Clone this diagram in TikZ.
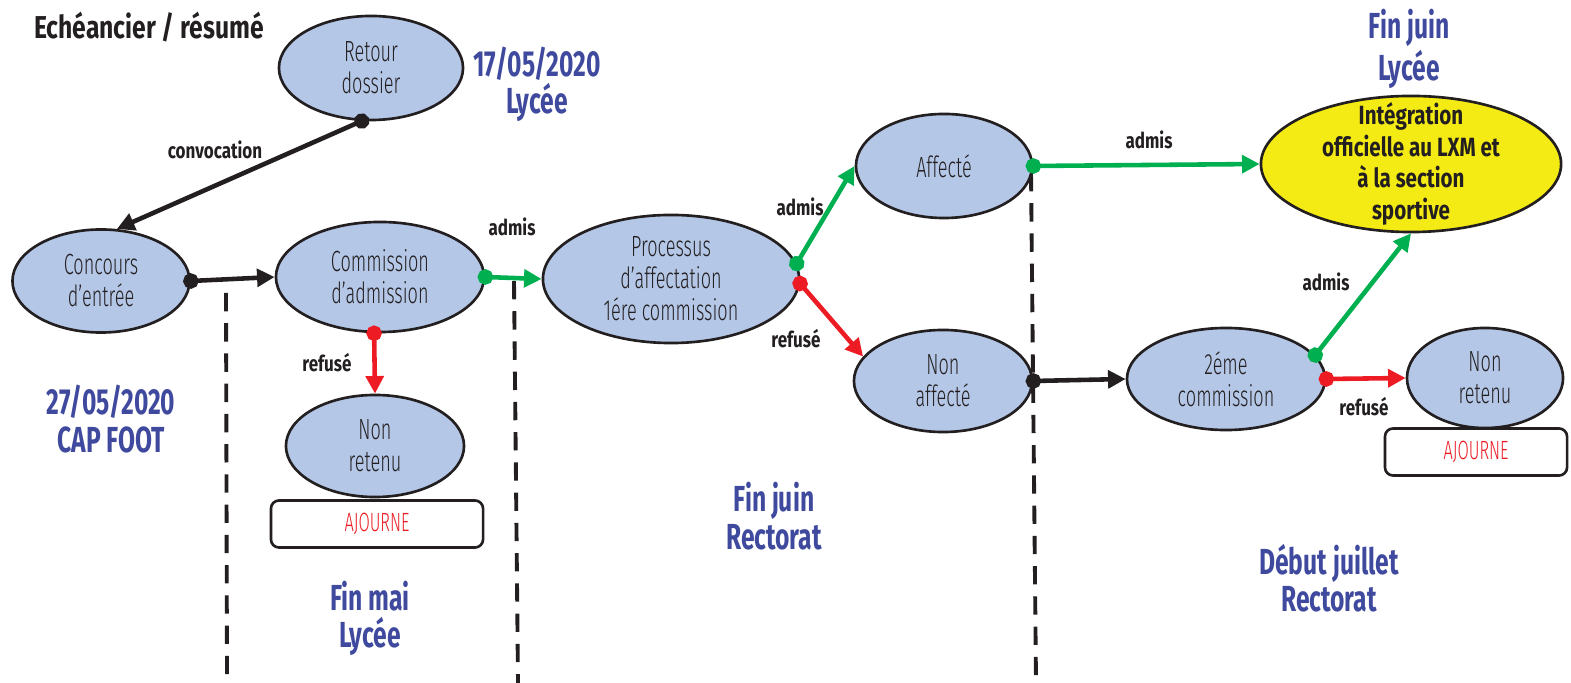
\documentclass[tikz,border=0pt]{standalone}
\usepackage{fontspec}
\setmainfont{Fira Sans Light}[FakeStretch=0.62]
\newfontfamily\fbold{Fira Sans}[FakeStretch=0.78]
\newfontfamily\fblue{Fira Sans}[FakeStretch=0.68]
\usetikzlibrary{shapes.geometric,arrows.meta}
\definecolor{nodefill}{HTML}{B4C7E7}
\definecolor{txt}{HTML}{231F20}
\definecolor{bluelab}{HTML}{3F4A9E}
\definecolor{grn}{HTML}{00B050}
\definecolor{rd}{HTML}{ED1C24}
\definecolor{yel}{HTML}{F5EB14}
\tikzset{
  ell/.style={ellipse, draw=txt, line width=0.75pt, fill=nodefill, inner sep=0pt},
  ntext/.style={font=\fontsize{8.3}{9.1}\selectfont, text=txt, align=center, inner sep=0pt},
  itext/.style={font=\fbold\bfseries\fontsize{7.5}{9}\selectfont, text=txt, align=center, inner sep=0pt},
  lab/.style={font=\fbold\bfseries\fontsize{6.2}{7}\selectfont, text=txt, inner sep=0pt},
  bluelabel/.style={font=\fblue\bfseries\fontsize{10.3}{10.6}\selectfont, text=bluelab, align=center, inner sep=0pt},
  titlestyle/.style={font=\fbold\bfseries\fontsize{9}{10}\selectfont, text=txt, inner sep=0pt},
  ajbox/.style={draw=txt, line width=0.75pt, rounded corners=2.3pt, fill=white, text=rd, font=\fontsize{7.5}{8}\selectfont, inner sep=0pt},
  conn/.style={line width=1.3pt, shorten <=-2.2pt, {Circle[length=4.4pt]}-{Triangle[length=5pt,width=5pt]}},
  divider/.style={draw=txt, line width=1.1pt, dash pattern=on 5.2pt off 3.4pt}
}
\begin{document}
\begin{tikzpicture}[x=0.01cm, y=-0.01cm]
\useasboundingbox (0,0) rectangle (1571,683);

% dividers
\coordinate (d1t) at (226,293); \coordinate (d1b) at (227,683);
\coordinate (d2t) at (514,281); \coordinate (d2b) at (518,683);
\coordinate (d3t) at (1031,173); \coordinate (d3b) at (1036,683);
\draw[divider] (d1t) -- (d1b);
\draw[divider] (d2t) -- (d2b);
\draw[divider] (d3t) -- (d3b);

% title
\node[titlestyle] (title) at (149,27) {Echéancier / résumé};

% nodes
\node[ell, minimum width=1.84cm, minimum height=1.04cm, label={[ntext]center:{Retour\\dossier}}] (ret) at (371,68) {};
\node[ell, minimum width=1.77cm, minimum height=1.03cm, label={[ntext]center:{Concours\\d’entrée}}] (con) at (101,281) {};
\node[ell, minimum width=2.08cm, minimum height=1.10cm, label={[ntext]center:{Commission\\d’admission}}] (comm) at (380,277) {};
\node[ell, minimum width=1.78cm, minimum height=1.02cm, label={[ntext]center:{Non\\retenu}}] (nr1) at (375,446) {};
\node[ell, minimum width=2.56cm, minimum height=1.28cm, label={[ntext]center:{Processus\\d’affectation\\1ére commission}}] (proc) at (671,279) {};
\node[ell, minimum width=1.76cm, minimum height=1.04cm, label={[ntext]center:{Affecté}}] (aff) at (944,166) {};
\node[ell, minimum width=1.78cm, minimum height=1.02cm, label={[ntext]center:{Non\\affecté}}] (naff) at (943,381) {};
\node[ell, fill=yel, minimum width=3.0cm, minimum height=1.36cm, label={[itext]center:{Intégration\\officielle au LXM et\\à la section\\sportive}}] (int) at (1411,164) {};
\node[ell, minimum width=1.98cm, minimum height=1.02cm, label={[ntext]center:{2éme\\commission}}] (sec) at (1226,379) {};
\node[ell, minimum width=1.56cm, minimum height=1.0cm, label={[ntext]center:{Non\\retenu}}] (nr2) at (1485,378) {};

% ajourne boxes
\node[ajbox, minimum width=2.12cm, minimum height=0.47cm] (aj1) at (377,524) {AJOURNE};
\node[ajbox, minimum width=1.82cm, minimum height=0.47cm] (aj2) at (1476,452) {AJOURNE};

% blue date labels
\node[bluelabel] (dt1) at (537,84) {17/05/2020\\Lycée};
\node[bluelabel] (dt2) at (111,419) {27/05/2020\\CAP FOOT};
\node[bluelabel] (dt3) at (370,618) {Fin mai\\Lycée};
\node[bluelabel] (dt4) at (774,516) {Fin juin\\Rectorat};
\node[bluelabel] (dt5) at (1409,49) {Fin juin\\Lycée};
\node[bluelabel] (dt6) at (1329,578) {Début juillet\\Rectorat};

% connectors
\draw[conn, draw=txt] (ret.260) -- (con.73);
\draw[conn, draw=txt] (con.east) -- (comm.west);
\draw[conn, draw=rd] (comm.264) -- (nr1.north);
\draw[conn, draw=grn] (comm.east) -- (proc.west);
\draw[conn, draw=grn] (proc.7) -- (aff.west);
\draw[conn, draw=rd] (proc.-2) -- (naff.163);
\draw[conn, draw=grn] (aff.east) -- (int.west);
\draw[conn, draw=txt] (naff.east) -- (sec.west);
\draw[conn, draw=grn] (sec.15) -- (int.south);
\draw[conn, draw=rd] (sec.east) -- (nr2.west);

% connector labels
\node[lab] (l1) at (215,150) {convocation};
\node[lab] (l2) at (512,227) {admis};
\node[lab] (l3) at (327,363) {refusé};
\node[lab] (l4) at (800,207) {admis};
\node[lab] (l5) at (796,339) {refusé};
\node[lab] (l6) at (1149,140) {admis};
\node[lab] (l7) at (1326,282) {admis};
\node[lab] (l8) at (1364,407) {refusé};
\end{tikzpicture}
\end{document}
